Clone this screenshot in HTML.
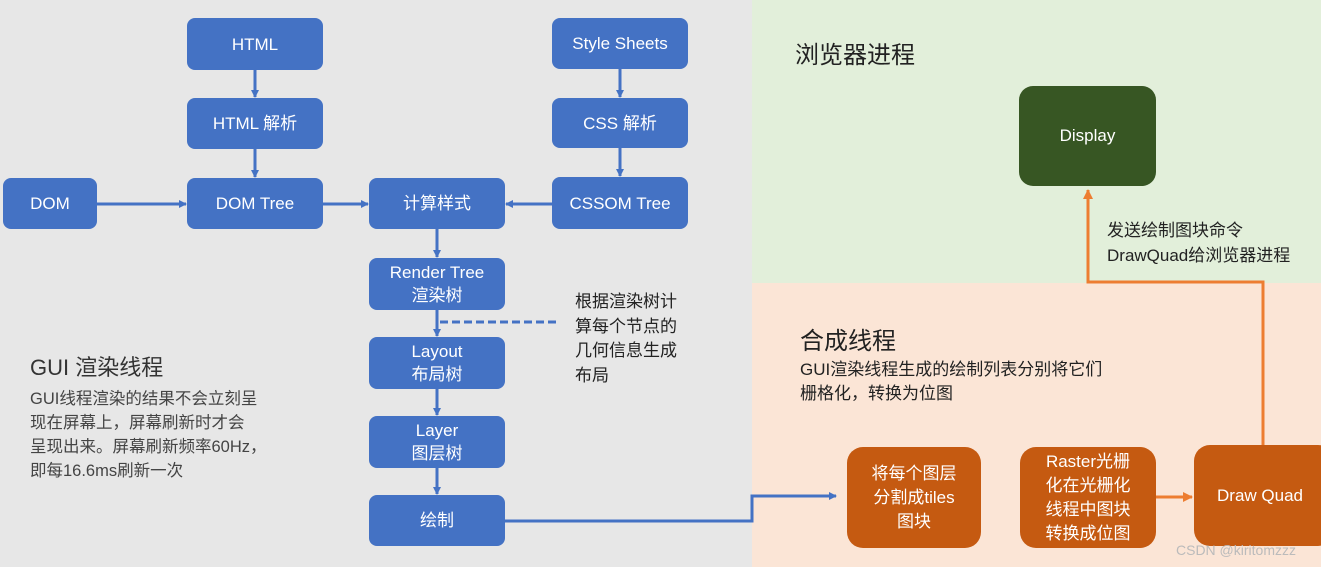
<!DOCTYPE html>
<html><head><meta charset="utf-8"><style>
body{margin:0;width:1321px;height:567px;position:relative;overflow:hidden;font-family:"Liberation Sans","Noto Sans CJK SC",sans-serif;}
.bg{position:absolute}
.b{position:absolute;background:#4472c4;color:#fff;border-radius:8px;display:flex;align-items:center;justify-content:center;text-align:center;font-size:17px;line-height:23px;}
.o{position:absolute;background:#c55a11;color:#fff;border-radius:16px;display:flex;align-items:center;justify-content:center;text-align:center;font-size:17px;line-height:24px;}
.t{position:absolute;color:#222;white-space:nowrap}
svg{position:absolute;left:0;top:0}
</style></head><body>
<div class="bg" style="left:0;top:0;width:752px;height:567px;background:#e7e7e7"></div>
<div class="bg" style="left:752px;top:0;width:569px;height:283px;background:#e2efda"></div>
<div class="bg" style="left:752px;top:283px;width:569px;height:284px;background:#fbe5d6"></div>

<svg width="1321" height="567">
<defs>
<marker id="ab" markerWidth="8" markerHeight="8" refX="7" refY="4" orient="auto" markerUnits="userSpaceOnUse"><path d="M0,0 L8,4 L0,8z" fill="#4472c4"/></marker>
<marker id="ao" markerWidth="10" markerHeight="10" refX="9" refY="5" orient="auto" markerUnits="userSpaceOnUse"><path d="M0,0 L10,5 L0,10z" fill="#ed7d31"/></marker>
</defs>
<g stroke="#4472c4" stroke-width="3" fill="none">
<line x1="255" y1="70" x2="255" y2="97" marker-end="url(#ab)"/>
<line x1="255" y1="149" x2="255" y2="177" marker-end="url(#ab)"/>
<line x1="620" y1="69" x2="620" y2="97" marker-end="url(#ab)"/>
<line x1="620" y1="148" x2="620" y2="176" marker-end="url(#ab)"/>
<line x1="97" y1="204" x2="186" y2="204" marker-end="url(#ab)"/>
<line x1="323" y1="204" x2="368" y2="204" marker-end="url(#ab)"/>
<line x1="552" y1="204" x2="506" y2="204" marker-end="url(#ab)"/>
<line x1="437" y1="229" x2="437" y2="257" marker-end="url(#ab)"/>
<line x1="437" y1="310" x2="437" y2="336" marker-end="url(#ab)"/>
<line x1="437" y1="389" x2="437" y2="415" marker-end="url(#ab)"/>
<line x1="437" y1="468" x2="437" y2="494" marker-end="url(#ab)"/>
<line x1="440" y1="322" x2="560" y2="322" stroke-dasharray="8,4"/>
<polyline points="505,521 752,521 752,496 836,496" marker-end="url(#ab)"/>
</g>
<g stroke="#ed7d31" stroke-width="3" fill="none">
<line x1="1156" y1="497" x2="1192" y2="497" marker-end="url(#ao)"/>
<polyline points="1263,445 1263,282 1088,282 1088,190" marker-end="url(#ao)"/>
</g>
</svg>

<div class="b" style="left:187px;top:18px;width:136px;height:52px">HTML</div>
<div class="b" style="left:187px;top:98px;width:136px;height:51px">HTML 解析</div>
<div class="b" style="left:3px;top:178px;width:94px;height:51px">DOM</div>
<div class="b" style="left:187px;top:178px;width:136px;height:51px">DOM Tree</div>
<div class="b" style="left:369px;top:178px;width:136px;height:51px">计算样式</div>
<div class="b" style="left:552px;top:18px;width:136px;height:51px">Style Sheets</div>
<div class="b" style="left:552px;top:98px;width:136px;height:50px">CSS 解析</div>
<div class="b" style="left:552px;top:177px;width:136px;height:52px">CSSOM Tree</div>
<div class="b" style="left:369px;top:258px;width:136px;height:52px">Render Tree<br>渲染树</div>
<div class="b" style="left:369px;top:337px;width:136px;height:52px">Layout<br>布局树</div>
<div class="b" style="left:369px;top:416px;width:136px;height:52px">Layer<br>图层树</div>
<div class="b" style="left:369px;top:495px;width:136px;height:51px">绘制</div>

<div class="t" style="left:575px;top:290px;font-size:17px;line-height:24.5px">根据渲染树计<br>算每个节点的<br>几何信息生成<br>布局</div>
<div class="t" style="left:30px;top:350px;font-size:22px;color:#333">GUI 渲染线程</div>
<div class="t" style="left:30px;top:387px;font-size:16.5px;line-height:24px;color:#444">GUI线程渲染的结果不会立刻呈<br>现在屏幕上，屏幕刷新时才会<br>呈现出来。屏幕刷新频率60Hz，<br>即每16.6ms刷新一次</div>

<div class="t" style="left:795px;top:35px;font-size:24px">浏览器进程</div>
<div class="o" style="left:1019px;top:86px;width:137px;height:100px;background:#375623;border-radius:14px">Display</div>
<div class="t" style="left:1107px;top:218px;font-size:17px;line-height:25px">发送绘制图块命令<br>DrawQuad给浏览器进程</div>

<div class="t" style="left:800px;top:321px;font-size:24px">合成线程</div>
<div class="t" style="left:800px;top:358px;font-size:17px;line-height:24px">GUI渲染线程生成的绘制列表分别将它们<br>栅格化，转换为位图</div>

<div class="o" style="left:847px;top:447px;width:134px;height:101px">将每个图层<br>分割成tiles<br>图块</div>
<div class="o" style="left:1020px;top:447px;width:136px;height:101px">Raster光栅<br>化在光栅化<br>线程中图块<br>转换成位图</div>
<div class="o" style="left:1194px;top:445px;width:140px;height:101px;justify-content:flex-start;padding-left:23px;box-sizing:border-box">Draw Quad</div>
<div class="t" style="left:1176px;top:542px;font-size:14px;color:#bbb">CSDN @kiritomzzz</div>
</body></html>
